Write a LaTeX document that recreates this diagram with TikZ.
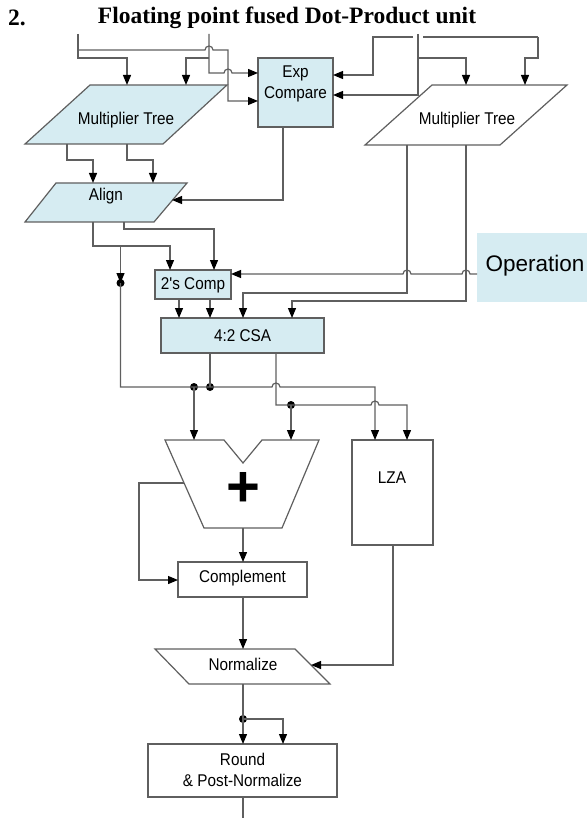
\documentclass[tikz,border=0pt]{standalone}
\usepackage{fontspec}
\setmainfont{Liberation Serif}
\newfontfamily\blockfont[FakeStretch=0.9]{Liberation Sans}
\newfontfamily\opfont{Liberation Sans}
\usetikzlibrary{arrows.meta,calc}

\definecolor{blockblue}{RGB}{214,236,242}
\definecolor{wiregray}{RGB}{95,95,95}

\tikzset{
  wire/.style={draw=wiregray, line width=1.2pt},
  feed/.style={wire, -{Triangle[length=10pt,width=8pt,color=black]}},
  block/.style={draw=wiregray, line width=1.2pt, fill=blockblue},
  plain/.style={draw=wiregray, line width=1.2pt, fill=white},
  blocklabel/.style={font=\blockfont\fontsize{17}{21}\selectfont, inner sep=0pt, align=center},
  junction/.style={circle, fill=black, inner sep=0pt, minimum size=8pt}
}

\begin{document}
\begin{tikzpicture}[x=1pt, y=-1pt]
    \useasboundingbox (0,0) rectangle (587,818);

    % Title
    \node[anchor=west, font=\bfseries\fontsize{23.5}{26}\selectfont, inner sep=0pt] (num) at (8,18) {2.};
    \node[font=\bfseries\fontsize{23.5}{26}\selectfont, inner sep=0pt] (title) at (287,18) {Floating point fused Dot-Product unit};

    % Define the pins of the blocks
    \coordinate (inA) at (78,34);
    \coordinate (inB) at (209,34);
    \coordinate (inC) at (418,34);
    \coordinate (inD) at (538,37);
    \coordinate (expInA) at (258,101);
    \coordinate (expInB) at (258,73);
    \coordinate (expInC) at (333,95);
    \coordinate (expInD) at (333,75);
    \coordinate (expOut) at (283,127);
    \coordinate (mtLinA) at (127,85);
    \coordinate (mtLinB) at (186,85);
    \coordinate (mtLoutA) at (67,144);
    \coordinate (mtLoutB) at (127,144);
    \coordinate (mtRinC) at (466,85);
    \coordinate (mtRinD) at (525,85);
    \coordinate (mtRoutA) at (407,145);
    \coordinate (mtRoutB) at (466,145);
    \coordinate (alignInA) at (93,183);
    \coordinate (alignInB) at (153,183);
    \coordinate (alignInExp) at (172,200);
    \coordinate (alignOutA) at (93,222);
    \coordinate (alignOutB) at (124,222);
    \coordinate (twosInA) at (170,270);
    \coordinate (twosInB) at (214,270);
    \coordinate (twosInOp) at (231,274);
    \coordinate (twosOutA) at (179,299);
    \coordinate (twosOutB) at (210,299);
    \coordinate (opOut) at (477,274);
    \coordinate (csaInA) at (179,318);
    \coordinate (csaInB) at (210,318);
    \coordinate (csaInC) at (243,318);
    \coordinate (csaInD) at (292,318);
    \coordinate (csaOutA) at (210,353);
    \coordinate (csaOutB) at (276,353);
    \coordinate (addInA) at (194,440);
    \coordinate (addInB) at (291,440);
    \coordinate (addFb) at (184,483);
    \coordinate (addOut) at (243,528);
    \coordinate (lzaInA) at (375,440);
    \coordinate (lzaInB) at (407,440);
    \coordinate (lzaOut) at (393,545);
    \coordinate (compIn) at (243,562);
    \coordinate (compFb) at (178,580);
    \coordinate (compOut) at (243,597);
    \coordinate (normIn) at (243,649);
    \coordinate (normLza) at (311,665);
    \coordinate (normOut) at (243,684);
    \coordinate (rndInA) at (243,744);
    \coordinate (rndInB) at (283,744);
    \coordinate (rndOut) at (243,797);
    \coordinate (outEnd) at (243,818);

    % Draw blocks
    \draw[block] (258,58) rectangle (333,127);
    \draw[block] (90,85) -- (227,85) -- (163,144) -- (25,144) -- cycle;
    \draw[plain] (432,85) -- (567,85) -- (500,145) -- (365,145) -- cycle;
    \draw[block] (56,183) -- (187,183) -- (154,222) -- (25,222) -- cycle;
    \draw[block] (155,270) rectangle (231,299);
    \fill[blockblue] (477,233) rectangle (587,302);
    \draw[block] (161,318) rectangle (324,353);
    \draw[plain] (165,440) -- (224,440) -- (243,463) -- (262,440) -- (319,440) -- (282,528) -- (204,528) -- cycle;
    \draw[plain] (352,440) rectangle (433,545);
    \draw[plain] (178,562) rectangle (307,597);
    \draw[plain] (155,649) -- (295,649) -- (330,684) -- (189,684) -- cycle;
    \draw[plain] (148,744) rectangle (337,797);

    % Labels of blocks
    \node[blocklabel] (exp) at (295.5,84) {Exp\\Compare};
    \node[blocklabel] (mtL) at (126,120) {Multiplier Tree};
    \node[blocklabel] (mtR) at (467,120) {Multiplier Tree};
    \node[blocklabel] (align) at (106,196) {Align};
    \node[blocklabel] (twos) at (193,285) {2's Comp};
    \node[font=\opfont\fontsize{22.5}{26}\selectfont, inner sep=0pt] (op) at (535,266) {Operation};
    \node[blocklabel] (csa) at (242.5,335.5) {4:2 CSA};
    \node[font=\opfont\bfseries\fontsize{58}{58}\selectfont, inner sep=0pt] (adder) at (243,489) {+};
    \node[blocklabel] (lza) at (392,478) {LZA};
    \node[blocklabel] (compl) at (242.5,578) {Complement};
    \node[blocklabel] (norm) at (243,664) {Normalize};
    \node[blocklabel] (round) at (242.5,770) {Round\\\& Post-Normalize};

    % Inputs from the top
    \draw[feed] (inA) |- ($(mtLinA)+(0,-27)$) -- (mtLinA);
    \draw[feed] (78,50) -- (205,50) arc[start angle=180, end angle=0, radius=4pt] -| (228,101) -- (expInA);
    \draw[feed] (inB) -- (209,73) -- (224,73) arc[start angle=180, end angle=0, radius=4pt] -- (expInB);
    \draw[feed] (209,58) -| (mtLinB);
    \draw[feed] (inC) |- (expInC);
    \draw[feed] (418,58) -| (mtRinC);
    \draw[feed] (413,37) -| (373,75) -- (expInD);
    \draw[wire] (423,37) -- (inD);
    \draw[feed] (inD) |- (525,58) -- (mtRinD);

    % Multiplier trees to align and CSA
    \draw[feed] (mtLoutA) |- (80,160) -| (alignInA);
    \draw[feed] (mtLoutB) |- (140,160) -| (alignInB);
    \draw[feed] (expOut) |- (alignInExp);
    \draw[feed] (mtRoutA) |- (300,293) -| (csaInC);
    \draw[feed] (mtRoutB) |- (350,301) -| (csaInD);

    % Operation line hops over the tree outputs
    \draw[feed] (opOut) -- (470,274) arc[start angle=0, end angle=180, radius=4pt]
        -- (411,274) arc[start angle=0, end angle=180, radius=4pt] -- (twosInOp);

    % Align to 2's complement
    \draw[feed] (alignOutA) |- (150,246) -| (twosInA);
    \draw[feed] (alignOutB) |- (180,229) -| (twosInB);
    \draw[feed] (twosOutA) -- (csaInA);
    \draw[feed] (twosOutB) -- (csaInB);

    % Bypass of the aligned operand
    \node[junction] (dotL) at (120.5,283) {};
    \node[junction] (dotA) at (194,387) {};
    \node[junction] (dotB) at (210,387) {};
    \node[junction] (dotC) at (291,405) {};
    \draw[feed] (120.5,246) -- (dotL.center);
    \draw[feed] (dotL.center) |- (272,387) arc[start angle=180, end angle=0, radius=4pt] -| (lzaInA);
    \draw[wire] (csaOutA) -- (dotB.center);
    \draw[feed] (dotA.center) -- (addInA);
    \draw[feed] (csaOutB) |- (371,405) arc[start angle=180, end angle=0, radius=4pt] -| (lzaInB);
    \draw[feed] (dotC.center) -- (addInB);

    % Adder, complement, normalize, round
    \draw[feed] (addFb) -| (139,560) |- (compFb);
    \draw[feed] (addOut) -- (compIn);
    \draw[feed] (lzaOut) |- (normLza);
    \draw[feed] (compOut) -- (normIn);
    \node[junction] (dotR) at (243,719) {};
    \draw[feed] (normOut) -- (rndInA);
    \draw[feed] (dotR.center) -| (rndInB);
    \draw[wire] (rndOut) -- (outEnd);
\end{tikzpicture}
\end{document}
